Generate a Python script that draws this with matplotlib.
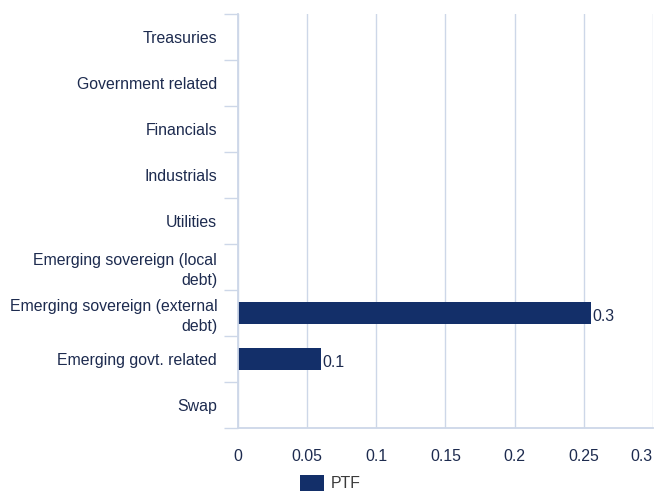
import numpy as np
import matplotlib.pyplot as plt
from matplotlib.transforms import ScaledTranslation

# Sector allocation of the portfolio
sectors = [
    'Treasuries',
    'Government related',
    'Financials',
    'Industrials',
    'Utilities',
    'Emerging sovereign (local\ndebt)',
    'Emerging sovereign (external\ndebt)',
    'Emerging govt. related',
    'Swap',
]
ptf = [np.nan, np.nan, np.nan, np.nan, np.nan, np.nan, 0.255, 0.06, np.nan]
x_ticks = [0, 0.05, 0.1, 0.15, 0.2, 0.25, 0.3]
x_labels = ['0', '0.05', '0.1', '0.15', '0.2', '0.25', '0.3']

navy = '#132f69'
text_col = '#1d2b4f'
grid_col = '#cdd7e8'
fs = 11.4

plt.rcParams['font.family'] = ['Liberation Sans', 'DejaVu Sans']
plt.rcParams['font.size'] = fs

fig = plt.figure(figsize=(6.55, 4.91), dpi=100)
ax = fig.add_axes([238 / 655, 1 - 428 / 491, 415 / 655, 414 / 491])

# nudge text slightly down, as the labels sit a bit below row centres
down = ScaledTranslation(0, -2.5 / 72, fig.dpi_scale_trans)

y = np.arange(len(sectors))
bars = ax.barh(y, ptf, height=0.46, color=navy, label='PTF')
for yi, v in zip(y, ptf):
    if not np.isnan(v):
        ax.text(v + 0.001, yi, f'{v:.1f}', va='center', ha='left',
                color=text_col, fontsize=fs,
                transform=ax.transData + down)

ax.set_ylim(len(sectors) - 0.5, -0.5)
ax.set_xlim(0, 0.3)
ax.set_xticks(x_ticks)
ax.set_xticklabels(x_labels, color=text_col)
ax.get_xticklabels()[-1].set_ha('right')
ax.set_yticks(y)
ax.set_yticklabels(sectors, color=text_col, ha='right', linespacing=1.35)
for lbl in ax.get_yticklabels():
    lbl.set_transform(lbl.get_transform() + down)
ax.set_yticks(np.arange(len(sectors) + 1) - 0.5, minor=True)

ax.tick_params(axis='y', which='major', length=0, pad=15)
ax.tick_params(axis='y', which='minor', length=10, width=1, color=grid_col)
ax.tick_params(axis='x', length=0, pad=15)

ax.grid(axis='x', color=grid_col, linewidth=1)
ax.set_axisbelow(True)
for s in ['top', 'right']:
    ax.spines[s].set_visible(False)
for s in ['left', 'bottom']:
    ax.spines[s].set_color(grid_col)
    ax.spines[s].set_linewidth(1.3)

fig.legend(handles=[bars], labels=['PTF'], loc='center left',
           bbox_to_anchor=(292 / 655, 1 - 483 / 491), frameon=False,
           borderpad=0, handlelength=1.5, handleheight=1.25,
           handletextpad=0.45, labelcolor='#3a3a3a', fontsize=fs)

fig.savefig('out.png', dpi=100)
